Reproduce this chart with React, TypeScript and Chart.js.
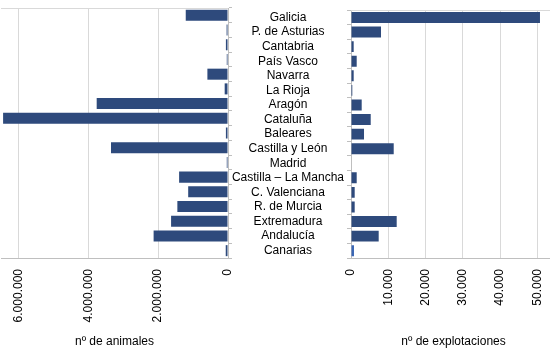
import React, { useEffect, useRef } from "react";
import { Chart, registerables } from "chart.js";

Chart.register(...registerables);

const regions = [
  "Galicia", "P. de Asturias", "Cantabria", "País Vasco", "Navarra", "La Rioja",
  "Aragón", "Cataluña", "Baleares", "Castilla y León", "Madrid",
  "Castilla – La Mancha", "C. Valenciana", "R. de Murcia", "Extremadura",
  "Andalucía", "Canarias",
];

const animales = [
  1210000, 40000, 60000, 35000, 590000, 95000,
  3760000, 6440000, 60000, 3350000, 35000,
  1400000, 1140000, 1450000, 1630000, 2130000, 65000,
];

const explotaciones = [
  50700, 8050, 720, 1530, 720, 350,
  2870, 5290, 3490, 11460, 0,
  1530, 990, 990, 12260, 7430, 800,
];

const animalesTicks = [0, 2000000, 4000000, 6000000];
const explotacionesTicks = [0, 10000, 20000, 30000, 40000, 50000];
const animalesMax = 6500000;
const explotacionesMax = 55000;

const animalesTitle = "nº de animales";
const explotacionesTitle = "nº de explotaciones";

const BAR = "#2E4A7C";
const GRID = "#d9d9d9";
const AXIS = "#bfbfbf";
const FONT = "'Liberation Sans', Arial, sans-serif";

const fmt = (v: number) => String(Math.round(v)).replace(/\B(?=(\d{3})+(?!\d))/g, ".");

const topLine = {
  id: "topLine",
  afterDraw(chart: any) {
    const { ctx, chartArea } = chart;
    ctx.save();
    ctx.strokeStyle = GRID;
    ctx.lineWidth = 1;
    ctx.beginPath();
    ctx.moveTo(chartArea.left, Math.round(chartArea.top) + 0.5);
    ctx.lineTo(chartArea.right, Math.round(chartArea.top) + 0.5);
    ctx.stroke();
    ctx.restore();
  },
};

function xAxis(title: string, max: number, tickValues: number[], reverse: boolean) {
  return {
    type: "linear",
    min: 0,
    max,
    reverse,
    grid: { color: GRID, drawTicks: false },
    border: { color: AXIS },
    afterBuildTicks: (s: any) => {
      s.ticks = tickValues.map((v) => ({ value: v }));
    },
    ticks: {
      minRotation: 90,
      maxRotation: 90,
      padding: 11,
      autoSkip: false,
      color: "#000",
      font: { family: FONT, size: 12 },
      callback: (v: any) => fmt(Number(v)),
    },
    title: {
      display: true,
      text: title,
      color: "#000",
      font: { family: FONT, size: 12 },
      padding: { top: 0, bottom: 1 },
    },
    afterFit: (s: any) => {
      s.height = 92;
      s.paddingLeft = 0;
      s.paddingRight = 0;
    },
  };
}

export default function App() {
  const leftRef = useRef<HTMLCanvasElement>(null);
  const rightRef = useRef<HTMLCanvasElement>(null);

  useEffect(() => {
    const left = new Chart(leftRef.current!, {
      type: "bar",
      data: {
        labels: regions,
        datasets: [
          {
            data: animales,
            backgroundColor: BAR,
            barPercentage: 0.75,
            categoryPercentage: 1,
          },
        ],
      },
      options: {
        indexAxis: "y",
        responsive: false,
        animation: false,
        layout: { padding: { left: 1, top: 8, right: 0, bottom: 0 } },
        plugins: { legend: { display: false }, tooltip: { enabled: false } },
        scales: {
          x: xAxis(animalesTitle, animalesMax, animalesTicks, true) as any,
          y: {
            position: "right",
            grid: { drawOnChartArea: false, drawTicks: true, tickLength: 4, color: AXIS },
            border: { color: AXIS },
            ticks: { display: false },
            afterFit: (s: any) => {
              s.width = 4;
            },
          },
        },
      },
      plugins: [topLine],
    });

    const right = new Chart(rightRef.current!, {
      type: "bar",
      data: {
        labels: regions,
        datasets: [
          {
            data: explotaciones,
            backgroundColor: explotaciones.map((_, i) => (i === regions.length - 1 ? "#3A66B4" : BAR)),
            barPercentage: 0.75,
            categoryPercentage: 1,
          },
        ],
      },
      options: {
        indexAxis: "y",
        responsive: false,
        animation: false,
        layout: { padding: { left: 0, top: 8, right: 0, bottom: 0 } },
        plugins: { legend: { display: false }, tooltip: { enabled: false } },
        scales: {
          x: xAxis(explotacionesTitle, explotacionesMax, explotacionesTicks, false) as any,
          y: {
            position: "left",
            grid: { drawOnChartArea: false, drawTicks: true, tickLength: 4, color: AXIS },
            border: { color: AXIS },
            ticks: {
              crossAlign: "center",
              padding: 3,
              autoSkip: false,
              color: "#000",
              font: { family: FONT, size: 12 },
            },
            afterFit: (s: any) => {
              s.width = 122;
            },
          },
        },
      },
      plugins: [topLine],
    });

    return () => {
      left.destroy();
      right.destroy();
    };
  }, []);

  return (
    <div
      style={{
        position: "fixed",
        left: 0,
        top: 0,
        width: 550,
        height: 350,
        overflow: "hidden",
        background: "#fff",
      }}
    >
      <canvas
        ref={leftRef}
        width={232}
        height={350}
        style={{ position: "absolute", left: 0, top: 0, width: 232, height: 350 }}
      />
      <canvas
        ref={rightRef}
        width={327}
        height={350}
        style={{ position: "absolute", left: 229, top: 0, width: 327, height: 350 }}
      />
    </div>
  );
}
